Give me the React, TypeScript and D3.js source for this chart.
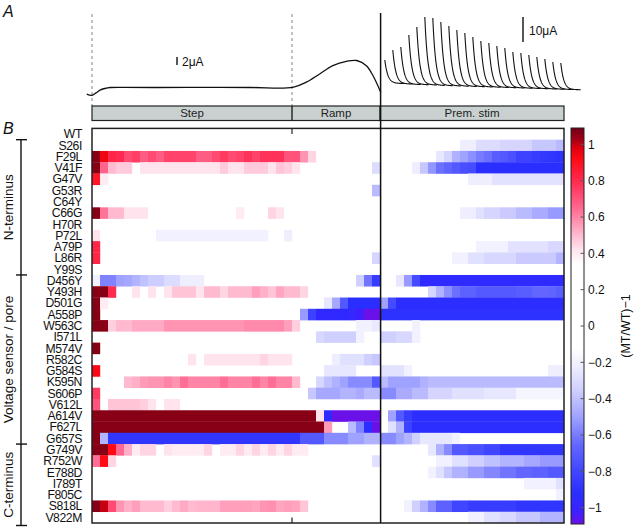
import React from "react";
import * as d3 from "d3";

// ---------- data ----------
const rowLabels = [
  "WT", "S26I", "F29L", "V41F", "G47V", "G53R", "C64Y", "C66G", "H70R", "P72L", "A79P", "L86R", "Y99S",
  "D456Y", "Y493H", "D501G", "A558P", "W563C", "I571L", "M574V", "R582C", "G584S", "K595N", "S606P",
  "V612L", "A614V", "F627L", "G657S", "G749V", "R752W", "E788D", "I789T", "F805C", "S818L", "V822M",
];
const groupNames = ["N-terminus", "Voltage sensor / pore", "C-terminus"];
const groupRowSpans = [[1, 12], [13, 27], [28, 34]];
const sectionNames = ["Step", "Ramp", "Prem. stim"];
const sectionCols = [[0, 25], [25, 36], [36, 59]];
const nCols = 59;

// runs per row: [firstCol, lastCol, value of (MT/WT)-1]
const cellRuns: number[][][] = [
  [],
  [[46, 47, -0.22], [48, 50, -0.3], [51, 54, -0.33], [55, 57, -0.38], [58, 58, -0.42]],
  [[0, 0, 1.06], [1, 1, 0.95], [2, 2, 0.82], [3, 3, 0.8], [4, 4, 0.72], [5, 5, 0.75], [6, 6, 0.68], [7, 7, 0.72], [8, 8, 0.68],
   [9, 12, 0.74], [13, 14, 0.68], [15, 15, 0.72], [16, 16, 0.76], [17, 17, 0.72], [18, 18, 0.74], [19, 19, 0.78], [20, 20, 0.74],
   [21, 23, 0.78], [24, 25, 0.7], [26, 26, 0.57], [27, 27, 0.45],
   [43, 43, -0.25], [44, 44, -0.33], [45, 45, -0.45], [46, 46, -0.5], [47, 47, -0.55], [48, 48, -0.6], [49, 49, -0.63],
   [50, 50, -0.7], [51, 51, -0.72], [52, 52, -0.75], [53, 54, -0.82], [55, 55, -0.85], [56, 56, -0.87], [57, 57, -0.88], [58, 58, -0.9]],
  [[0, 0, 1.06], [1, 1, 0.66], [2, 2, 0.5], [3, 4, 0.47], [6, 15, 0.42], [16, 16, 0.47], [17, 18, 0.42], [19, 21, 0.47],
   [22, 22, 0.42], [23, 23, 0.48], [24, 24, 0.46], [25, 25, 0.42], [35, 35, -0.3],
   [40, 40, -0.22], [41, 41, -0.38], [42, 42, -0.53], [43, 43, -0.63], [44, 44, -0.67], [45, 45, -0.72], [46, 46, -0.76],
   [47, 47, -0.78], [48, 58, -0.92]],
  [[0, 0, 0.88], [1, 1, 0.4], [47, 49, -0.22], [50, 58, -0.27]],
  [[35, 35, -0.42]],
  [],
  [[0, 0, 1.06], [1, 1, 0.63], [2, 3, 0.5], [4, 6, 0.42], [18, 18, 0.4], [22, 22, 0.45], [23, 23, 0.42],
   [46, 47, -0.22], [48, 48, -0.28], [49, 50, -0.33], [51, 52, -0.37], [53, 54, -0.42], [55, 56, -0.47], [57, 58, -0.52]],
  [],
  [[0, 0, 0.42], [8, 21, -0.2], [24, 24, -0.22]],
  [[0, 0, 0.82], [48, 51, -0.2], [52, 56, -0.27], [57, 58, -0.32]],
  [[0, 0, 0.82], [35, 35, -0.33], [45, 46, -0.2], [47, 48, -0.28], [49, 52, -0.32], [53, 57, -0.37], [58, 58, -0.44]],
  [],
  [[0, 0, -0.2], [1, 2, -0.58], [3, 3, -0.5], [4, 4, -0.48], [5, 5, -0.44], [6, 6, -0.4], [7, 8, -0.36], [9, 10, -0.3],
   [11, 13, -0.22], [33, 33, -0.35], [34, 34, -0.62], [35, 35, -0.85], [38, 38, -0.25], [39, 39, -0.52], [40, 40, -0.78], [41, 58, -0.95]],
  [[0, 1, 1.06], [2, 2, 0.8], [5, 5, 0.42], [7, 7, 0.42], [9, 9, 0.42], [10, 12, 0.48], [13, 13, 0.42], [14, 15, 0.5],
   [16, 16, 0.45], [17, 19, 0.5], [20, 20, 0.55], [21, 21, 0.52], [22, 22, 0.48], [23, 23, 0.54], [24, 25, 0.5], [26, 26, 0.45],
   [42, 42, -0.33], [43, 43, -0.45], [44, 44, -0.55], [45, 45, -0.63], [46, 47, -0.68], [48, 52, -0.72], [53, 54, -0.7],
   [55, 56, -0.66], [57, 57, -0.67], [58, 58, -0.7]],
  [[0, 0, 1.06], [1, 1, 0.4], [29, 29, -0.25], [30, 30, -0.48], [31, 31, -0.72], [32, 35, -0.92], [36, 36, -0.5],
   [37, 37, -0.78], [38, 58, -0.93]],
  [[0, 0, 1.06], [26, 26, -0.52], [27, 27, -0.82], [28, 31, -0.96], [32, 32, -0.98], [33, 33, -1.03], [34, 35, -1.09], [36, 58, -0.9]],
  [[0, 1, 1.06], [2, 2, 0.46], [3, 4, 0.5], [5, 8, 0.53], [9, 18, 0.57], [19, 23, 0.59], [24, 24, 0.55], [25, 25, 0.46],
   [33, 34, -0.2], [35, 35, -0.24], [40, 40, -0.2]],
  [[28, 28, -0.32], [29, 32, -0.35], [33, 33, -0.2], [36, 37, -0.35], [38, 39, -0.32], [40, 40, -0.2]],
  [[0, 0, 1.06]],
  [[12, 12, 0.42], [14, 20, 0.42], [21, 21, 0.45], [22, 24, 0.42], [30, 30, -0.22], [31, 33, -0.28], [34, 34, -0.35], [35, 35, -0.38]],
  [[0, 0, 0.93], [29, 32, -0.25], [36, 38, -0.27], [39, 39, -0.2], [57, 58, -0.22]],
  [[4, 4, 0.5], [5, 5, 0.52], [6, 6, 0.56], [7, 8, 0.57], [9, 9, 0.6], [10, 10, 0.57], [11, 11, 0.64], [12, 15, 0.6],
   [16, 16, 0.64], [17, 19, 0.6], [20, 20, 0.64], [21, 21, 0.6], [22, 22, 0.64], [23, 24, 0.6], [25, 25, 0.5],
   [28, 28, -0.32], [29, 29, -0.4], [30, 30, -0.45], [31, 31, -0.5], [32, 34, -0.56], [35, 35, -0.72], [36, 36, -0.42],
   [37, 40, -0.5], [41, 41, -0.45], [42, 58, -0.42]],
  [[0, 0, 0.76], [27, 27, -0.38], [28, 30, -0.48], [31, 32, -0.44], [33, 33, -0.47], [34, 35, -0.42], [36, 37, -0.56],
   [38, 39, -0.47], [40, 41, -0.42], [42, 44, -0.33], [45, 48, -0.28], [49, 52, -0.25], [53, 58, -0.18]],
  [[0, 0, 0.7], [2, 5, 0.48], [6, 6, 0.46], [7, 7, 0.42], [9, 10, 0.42]],
  [[0, 27, 1.06], [28, 28, 0.42], [29, 29, -0.95], [30, 35, -1.09], [37, 37, -0.5], [38, 38, -0.72], [39, 39, -0.85], [40, 58, -0.93]],
  [[0, 28, 1.06], [29, 29, 0.56], [32, 32, -0.42], [33, 33, -0.58], [34, 34, -0.93], [35, 35, -1.09], [37, 37, -0.28],
   [38, 38, -0.45], [39, 39, -0.82], [40, 58, -0.93]],
  [[0, 0, 1.06], [1, 1, -0.44], [2, 25, -0.88], [26, 28, -0.72], [29, 31, -0.56], [32, 33, -0.5], [34, 35, -0.45],
   [36, 37, -0.56], [38, 38, -0.5], [39, 39, -0.44], [40, 40, -0.35], [41, 44, -0.25], [45, 45, -0.2]],
  [[0, 1, 1.06], [2, 2, 0.92], [3, 3, 0.65], [4, 4, 0.52], [5, 5, 0.4], [6, 7, 0.45], [9, 9, 0.42], [10, 13, 0.4],
   [14, 14, 0.45], [16, 17, 0.4], [18, 18, 0.45], [19, 19, 0.4], [20, 20, 0.45], [21, 21, 0.4], [22, 22, 0.45], [23, 23, 0.4],
   [24, 24, 0.45], [25, 26, 0.4], [42, 42, -0.25], [43, 43, -0.45], [44, 44, -0.56], [45, 46, -0.72], [47, 48, -0.76],
   [49, 50, -0.8], [51, 58, -0.88]],
  [[0, 0, 0.64], [1, 1, 0.92], [2, 2, 0.45], [35, 35, -0.28], [43, 44, -0.2], [45, 46, -0.28], [47, 48, -0.35],
   [49, 50, -0.4], [51, 53, -0.44], [54, 55, -0.48], [56, 58, -0.52]],
  [[42, 42, -0.2], [43, 43, -0.28], [44, 44, -0.38], [45, 46, -0.45], [47, 48, -0.52], [49, 50, -0.57], [51, 52, -0.62],
   [53, 54, -0.66], [55, 56, -0.68], [57, 58, -0.72]],
  [[54, 57, -0.2], [58, 58, -0.28]],
  [[58, 58, -0.2]],
  [[0, 0, 1.06], [1, 1, 1.0], [2, 2, 0.72], [3, 3, 0.57], [4, 4, 0.52], [5, 5, 0.55], [6, 8, 0.5], [9, 9, 0.46], [10, 10, 0.5],
   [11, 11, 0.53], [12, 12, 0.5], [13, 15, 0.51], [16, 19, 0.55], [20, 20, 0.54], [21, 21, 0.57], [22, 22, 0.58], [23, 23, 0.54],
   [24, 24, 0.55], [25, 25, 0.54], [26, 26, 0.48], [39, 39, -0.2], [40, 40, -0.35], [41, 41, -0.45], [42, 42, -0.56],
   [43, 44, -0.68], [45, 46, -0.8], [47, 52, -0.85], [53, 58, -0.88]],
  [[47, 48, -0.2], [49, 50, -0.28], [51, 52, -0.32], [53, 55, -0.38], [56, 58, -0.44]],
];

const colorbarTicks = [1, 0.8, 0.6, 0.4, 0.2, 0, -0.2, -0.4, -0.6, -0.8, -1];
const colorStopValues = [-1.09, -1.02, -0.92, -0.8, -0.65, -0.5, -0.35, -0.22, -0.12, 0.34, 0.42, 0.52, 0.65, 0.8, 0.92, 0.98, 1.03, 1.09];
const colorStopColors = ["#6a10e8", "#3a22ff", "#2a2eff", "#4046ff", "#6468ff", "#a0a2ff", "#d0d0ff", "#eeeeff", "#ffffff",
  "#ffffff", "#ffe4ee", "#ffb0c8", "#ff6890", "#ff2a50", "#ff0a14", "#e00010", "#a00018", "#700014"];

// panel A traces (x in column units, current in µA)
const stepTraceCol = [-0.66, -0.04, 0.5, 1.0, 1.6, 2.3, 4, 8, 14, 20, 25.1, 26.8, 28.5, 30.1, 31.8, 33.1, 34.3, 35.1, 36.1];
const stepTraceUA = [0.1, -0.2, 0.4, 1.1, 1.5, 1.75, 1.8, 1.75, 1.8, 1.75, 1.8, 3.1, 5.2, 7.2, 8.3, 8.5, 7.2, 4.8, 0.5];
const premPeakUA = [10.8, 14.8, 16.0, 20.8, 24.0, 28.0, 27.6, 26.0, 24.4, 22.8, 21.6, 20.0, 18.4, 17.6, 16.4, 15.6, 14.0, 13.6, 12.8, 12.0, 11.2, 10.0, 9.6];
const premBaseUA = [1.4, 1.2, 1.0, 0.9, 0.8, 0.6, 0.5, 0.4, 0.3, 0.2, 0.1, 0.0, -0.1, -0.2, -0.3, -0.4, -0.5, -0.6, -0.7, -0.8, -0.9, -1.0, -1.1];

const FONT = "'Liberation Sans', Arial, Helvetica, sans-serif";

export default function App() {
  const x = d3.scaleLinear().domain([0, nCols]).range([92, 564]);
  const y = d3.scaleBand<string>().domain(rowLabels).range([128.4, 523]);
  const bw = y.bandwidth();
  const color = d3.scaleLinear<string>().domain(colorStopValues).range(colorStopColors).clamp(true);
  const cb = d3.scaleLinear().domain([-1.09, 1.09]).range([524, 128]);
  const stepY = d3.scaleLinear().domain([0, 10]).range([94.5, 54.5]);
  const premY = d3.scaleLinear().domain([0, 10]).range([87, 62]);

  const stepLine = d3.line<number>()
    .x((_, i) => x(stepTraceCol[i]))
    .y((d) => stepY(d))
    .curve(d3.curveCatmullRom);
  const stepPath = stepLine(stepTraceUA) || "";

  const spikePaths = premPeakUA.map((amp, k) => {
    const x0 = x(36 + k + 0.6);
    const base = premY(premBaseUA[k]);
    const peak = premY(amp);
    const pts: [number, number][] = [[x0, peak]];
    for (let dx = 0.25; dx <= 20; dx += 0.25) {
      pts.push([x0 + dx, base - (base - peak) * Math.exp(-dx / 3.0)]);
    }
    return d3.line()(pts) || "";
  });

  const rowBoundary = (i: number) => (i < rowLabels.length ? (y(rowLabels[i]) as number) : 523);

  return (
    <svg width={638} height={528} style={{ position: "absolute", left: 0, top: 0, background: "#fff" }}
      fontFamily={FONT}>
      <defs>
        <linearGradient id="cbgrad" x1="0" y1="1" x2="0" y2="0">
          {colorStopValues.map((v, i) => (
            <stop key={i} offset={(v + 1.09) / 2.18} stopColor={colorStopColors[i]} />
          ))}
        </linearGradient>
      </defs>

      {/* panel labels */}
      <text x={3} y={17} fontSize={16} fontStyle="italic" fill="#111">A</text>
      <text x={3} y={134} fontSize={16} fontStyle="italic" fill="#111">B</text>

      {/* panel A */}
      <line x1={x(0)} x2={x(0)} y1={14} y2={106} stroke="#999" strokeWidth={1.2} strokeDasharray="3,3" />
      <line x1={x(25)} x2={x(25)} y1={14} y2={106} stroke="#999" strokeWidth={1.2} strokeDasharray="3,3" />
      <path d={stepPath} fill="none" stroke="#111" strokeWidth={1.3} />
      {spikePaths.map((d, i) => (
        <path key={i} d={d} fill="none" stroke="#111" strokeWidth={1.1} />
      ))}
      <line x1={177} x2={177} y1={65} y2={65 - (stepY(0) - stepY(2))} stroke="#111" strokeWidth={1.4} />
      <text x={182} y={66} fontSize={12} fill="#111">2μA</text>
      <line x1={523} x2={523} y1={42} y2={42 - (premY(0) - premY(10))} stroke="#111" strokeWidth={1.4} />
      <text x={529} y={35} fontSize={12} fill="#111">10μA</text>

      {/* section header bar */}
      <rect x={x(0)} y={106} width={x(nCols) - x(0)} height={14.5} fill="#c9d1d0" stroke="#222" strokeWidth={1.2} />
      {sectionNames.map((s, i) => (
        <g key={s}>
          {i > 0 && <line x1={x(sectionCols[i][0])} x2={x(sectionCols[i][0])} y1={106} y2={120.5} stroke="#111" strokeWidth={1.3} />}
          <text x={(x(sectionCols[i][0]) + x(sectionCols[i][1])) / 2} y={117.3} fontSize={11.5} textAnchor="middle" fill="#222">{s}</text>
        </g>
      ))}

      {/* heatmap */}
      {cellRuns.map((runs, r) =>
        runs.map(([c0, c1, v], j) => (
          <rect key={r + "-" + j} x={x(c0)} y={y(rowLabels[r])} width={x(c1 + 1) - x(c0) + 0.2} height={bw + 0.3} fill={color(v)} />
        ))
      )}
      <rect x={x(0)} y={128.4} width={x(nCols) - x(0)} height={523 - 128.4} fill="none" stroke="#222" strokeWidth={1.5} />
      <line x1={x(25)} x2={x(25)} y1={128.4} y2={134} stroke="#222" strokeWidth={1.2} />
      <line x1={x(25)} x2={x(25)} y1={517.5} y2={523} stroke="#222" strokeWidth={1.2} />
      <line x1={x(36) + 0.6} x2={x(36) + 0.6} y1={13} y2={523} stroke="#111" strokeWidth={1.5} />

      {/* row labels */}
      {rowLabels.map((lab) => (
        <text key={lab} x={82} y={(y(lab) as number) + bw / 2 + 4.3} fontSize={12.2} letterSpacing={-0.4}
          textAnchor="end" fill="#111">{lab}</text>
      ))}

      {/* group brackets */}
      <line x1={21} x2={21} y1={rowBoundary(1)} y2={525.5} stroke="#111" strokeWidth={1.4} />
      {[rowBoundary(1), rowBoundary(13), rowBoundary(28), 525.5].map((yy, i) => (
        <line key={i} x1={16} x2={27} y1={yy} y2={yy} stroke="#111" strokeWidth={1.4} />
      ))}
      {groupNames.map((g, i) => {
        const y0 = rowBoundary(groupRowSpans[i][0]);
        const y1 = i === 2 ? 525.5 : rowBoundary(groupRowSpans[i][1] + 1);
        return (
          <text key={g} transform={`translate(13,${(y0 + y1) / 2}) rotate(-90)`} fontSize={13.5}
            textAnchor="middle" fill="#111">{g}</text>
        );
      })}

      {/* colorbar */}
      <rect x={571} y={128} width={13} height={396} fill="url(#cbgrad)" stroke="#222" strokeWidth={1} />
      {colorbarTicks.map((t) => (
        <g key={t}>
          <line x1={580.5} x2={584} y1={cb(t)} y2={cb(t)} stroke="#555" strokeWidth={1} />
          <text x={588} y={cb(t) + 4.3} fontSize={12} fill="#111">
            {t < 0 ? "\u2212" + String(Math.abs(t)) : String(t)}
          </text>
        </g>
      ))}
      <text transform={`translate(630,${cb(0)}) rotate(-90)`} fontSize={12.5} textAnchor="middle" fill="#111">(MT/WT)−1</text>
    </svg>
  );
}
